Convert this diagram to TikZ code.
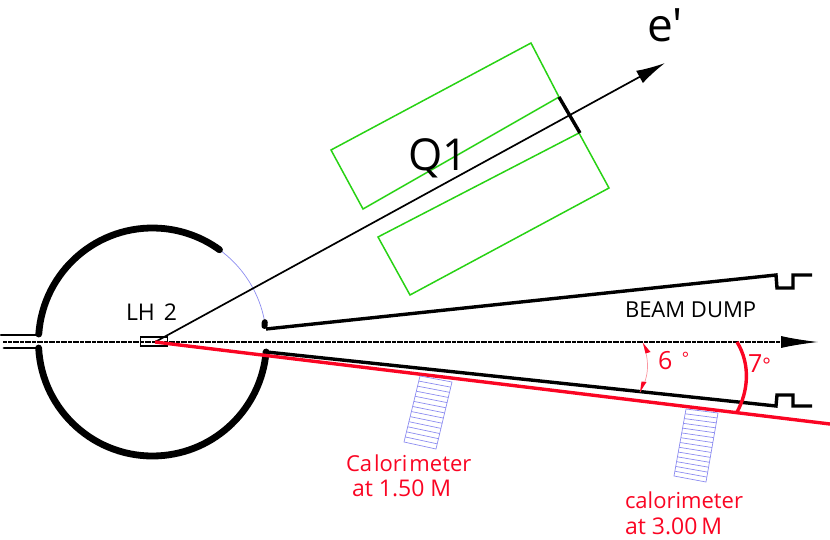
\documentclass[tikz,border=0pt]{standalone}
\usepackage{fontspec}
\setmainfont{Open Sans}
\newfontfamily\plainf{Open Sans}
\usetikzlibrary{calc,arrows.meta}
\definecolor{redd}{RGB}{250,5,35}
\definecolor{gren}{RGB}{40,210,20}
\definecolor{blu}{RGB}{140,140,240}
\definecolor{pinkk}{RGB}{250,150,160}
\tikzset{
  x=1pt,y=-1pt,
  wall/.style={line width=6.8pt,black,line cap=round},
  pipe/.style={line width=3.4pt,black,line join=miter},
  magnet/.style={line width=1.5pt,gren,line join=miter},
  ladder/.style={line width=.7pt,blu},
  lab/.style={anchor=base west,inner sep=0pt,outer sep=0pt,black},
  redlab/.style={lab,text=redd},
}
\newcommand{\fsz}[1]{\fontsize{#1}{#1}\selectfont}
\begin{document}
\begin{tikzpicture}
\useasboundingbox (0,0) rectangle (830,540);
\coordinate (c) at (152.5,342);
% chamber
\draw[ladder] ($(c)+(-54:114)$) coordinate (wa) arc[start angle=-54,end angle=-10,radius=114] coordinate (wb);
\draw[wall] ($(c)+(-176:114)$) arc[start angle=-176,end angle=-54,radius=114];
\draw[wall] ($(c)+(177:114)$) arc[start angle=177,end angle=5,radius=114] coordinate (wc);
% entrance pipe
\coordinate (pa) at (1,335); \coordinate (pb) at (38,335);
\coordinate (pc) at (4,348); \coordinate (pd) at (38,348);
\draw[line width=2.8pt,line cap=round] (pa) -- (pb);
\draw[line width=2.8pt,line cap=round] (pc) -- (pd);
% beam
\coordinate (ba) at (3,342); \coordinate (bb) at (781,342); \coordinate (bc) at (818,342);
\draw[line width=1.4pt,dash pattern=on 2pt off .4pt] (ba) -- (bb);
\draw[line width=1pt,-{Latex[length=37pt,width=12pt]}] (bb) -- (bc);
% target
\node[draw,line width=1.2pt,minimum width=27pt,minimum height=9pt,inner sep=0pt] (tg) at (154,341.5) {};
% magnets
\draw[magnet] (531,43) -- (331,150) -- (363,209) -- (559,97) -- cycle;
\draw[magnet] (579,133) -- (378,237) -- (410,295) -- (609,188) -- cycle;
\coordinate (qa) at (559,97); \coordinate (qb) at (580,133);
\draw[line width=3.4pt] (qa) -- (qb);
% scattered electron
\coordinate (ea) at (155,342); \coordinate (eb) at (665,63);
\draw[line width=1.7pt,-{Latex[length=29pt,width=14pt]}] (ea) -- (eb);
% beam dump walls
\coordinate (da) at (266,329);
\draw[pipe] (da) -- (776,275) -- (777,288) -- (793,288) -- (793,275) -- (812,275);
\draw[pipe] (wc) -- (776,406) -- (777,395) -- (793,395) -- (793,406) -- (812,406);
\draw[line width=6pt,line cap=round] (wb) -- (264.5,326);
% red acceptance line
\coordinate (ra) at (155,342); \coordinate (rb) at (830,424);
\draw[line width=3.4pt,redd] (ra) -- (rb);
% 7 deg
\coordinate (sa) at (737,342); \coordinate (sb) at (737,412);
\draw[line width=3.4pt,redd] (sa) .. controls (751,365) and (748,392) .. (sb);
% 6 deg
\coordinate (ta) at (643,343); \coordinate (tb) at (640,392);
\draw[line width=.7pt,pinkk] (ta) .. controls (649,360) and (650,375) .. (tb);
\fill[redd] (ta) -- (650.5,352) -- (645.5,353.5) -- cycle;
\fill[redd] (tb) -- (646.5,382) -- (641.5,381.5) -- cycle;
% calorimeters
\coordinate (a1) at (420,376); \coordinate (b1) at (452,382);
\coordinate (c1) at (436,449); \coordinate (d1) at (404,442);
\draw[ladder] (a1) -- (b1) -- (c1) -- (d1) -- cycle;
\foreach \t in {1,...,12} \draw[ladder] ($(a1)!\t/13!(d1)$) -- ($(b1)!\t/13!(c1)$);
\coordinate (a2) at (686,409); \coordinate (b2) at (718,413);
\coordinate (c2) at (706,482); \coordinate (d2) at (674,476);
\draw[ladder] (a2) -- (b2) -- (c2) -- (d2) -- cycle;
\foreach \t in {1,...,13} \draw[ladder] ($(a2)!\t/14!(d2)$) -- ($(b2)!\t/14!(c2)$);
% labels
\node[lab] (l1) at (647,41.5) {\plainf\fsz{46}e'};
\node[lab] (l2) at (408,171) {\fsz{44}Q1};
\node[lab] (l3) at (126,320) {\fsz{23}LH\hspace{3pt} 2};
\node[lab] (l4) at (625,317) {\fsz{22}BEAM DUMP};
\node[redlab] (l5) at (658,369) {\fsz{25}6\hspace{3pt} \raisebox{.35ex}{\fsz{17}°}};
\node[redlab] (l6) at (748,372) {\fsz{25}7\fsz{20}°};
\node[redlab] (l7) at (346,471) {\fsz{22}Ca\hspace{2pt}lori\hspace{2pt}meter};
\node[redlab] (l8) at (352,496) {\fsz{23}at\hspace{6pt}1.50\hspace{6pt}M};
\node[redlab] (l9) at (625,508) {\fsz{22}calorimeter};
\node[redlab] (l10) at (625,534) {\fsz{23}at 3.00\hspace{4pt}M};
\end{tikzpicture}
\end{document}
